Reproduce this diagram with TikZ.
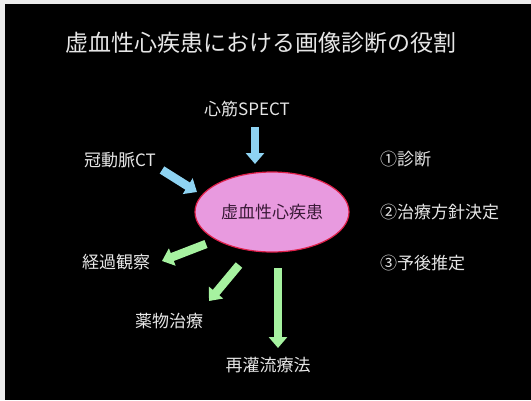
\documentclass[tikz,border=0pt]{standalone}
\usepackage{fontspec}
\setmainfont{Noto Sans CJK JP}
\usetikzlibrary{shapes.geometric,arrows.meta}
\definecolor{bluearrow}{HTML}{8ED3F2}
\definecolor{greenarrow}{HTML}{A6F2A0}
\definecolor{ellfill}{HTML}{E89ADF}
\definecolor{elldraw}{HTML}{E0204A}
\definecolor{labeltext}{HTML}{E6E6E6}
\definecolor{elltext}{HTML}{3A1A38}
\tikzset{
  lbl/.style={text=labeltext, font=\fontsize{17pt}{20pt}\selectfont, inner sep=0pt},
  fatarrow/.style={line width=8.5pt, -{Triangle[width=18pt,length=11pt]}},
  inarrow/.style={fatarrow, draw=bluearrow, fill=bluearrow},
  outarrow/.style={fatarrow, draw=greenarrow, fill=greenarrow},
}
\begin{document}
\begin{tikzpicture}[x=1pt,y=-1pt]
\useasboundingbox (0,0) rectangle (531,400);
\fill[white!85!gray] (0,0) rectangle (531,400);
\fill[black] (5,4) rectangle (531,400);
% title
\node[text=labeltext, font=\fontsize{23pt}{26pt}\selectfont, inner sep=0pt] (title) at (261,43) {虚血性心疾患における画像診断の役割};
% central ellipse
\node[ellipse, draw=elldraw, line width=1.2pt, fill=ellfill, minimum width=154pt, minimum height=80pt, inner sep=0pt, text=elltext, font=\fontsize{17pt}{20pt}\selectfont] (ihd) at (272,212) {虚血性心疾患};
% labels
\node[lbl] (spect) at (247,109) {心筋SPECT};
\node[lbl] (cct) at (120,160) {冠動脈CT};
\node[lbl] (obs) at (116,262) {経過観察};
\node[lbl] (drug) at (169,321) {薬物治療};
\node[lbl] (revasc) at (268,365) {再灌流療法};
\node[lbl, anchor=west] (r1) at (380,159) {①診断};
\node[lbl, anchor=west] (r2) at (380,212) {②治療方針決定};
\node[lbl, anchor=west] (r3) at (380,263) {③予後推定};
% arrow end points
\coordinate (a1s) at (255,127); \coordinate (a1e) at (255,164);
\coordinate (a2s) at (162,170); \coordinate (a2e) at (197,192);
\coordinate (b1s) at (206,244); \coordinate (b1e) at (162,261);
\coordinate (b2s) at (239,265); \coordinate (b2e) at (209,301);
\coordinate (b3s) at (278,268); \coordinate (b3e) at (278,348);
\draw[inarrow] (a1s) -- (a1e);
\draw[inarrow] (a2s) -- (a2e);
\draw[outarrow] (b1s) -- (b1e);
\draw[outarrow] (b2s) -- (b2e);
\draw[outarrow] (b3s) -- (b3e);
\end{tikzpicture}
\end{document}
